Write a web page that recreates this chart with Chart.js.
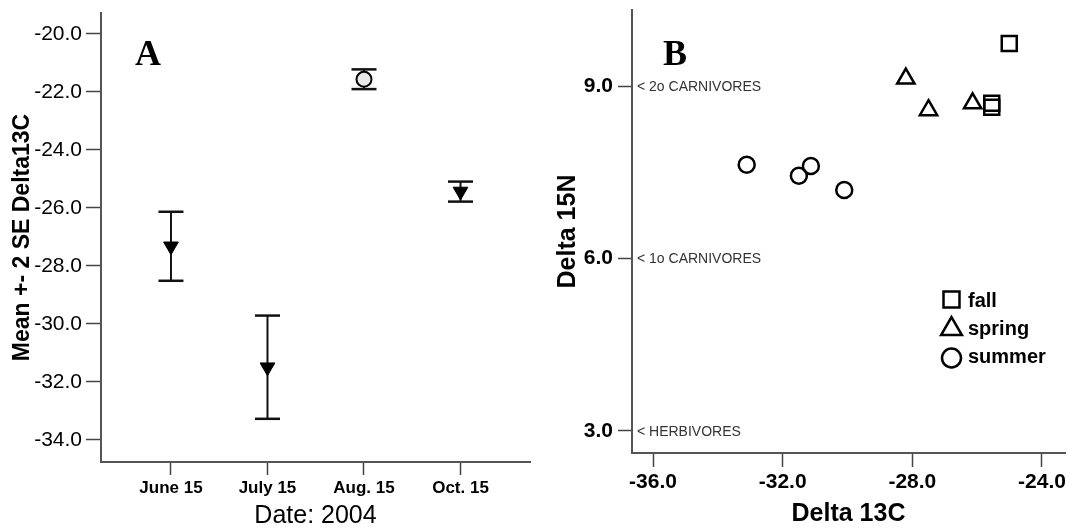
<!DOCTYPE html>
<html>
<head>
<meta charset="utf-8">
<script src="https://cdn.jsdelivr.net/npm/chart.js@4.4.1/dist/chart.umd.min.js"></script>
<style>
  html, body { margin: 0; padding: 0; background: #fff; }
  #wrapA { position: absolute; left: 0; top: 0; width: 540px; height: 529px; }
  #wrapB { position: absolute; left: 540px; top: 0; width: 528px; height: 529px; }
</style>
</head>
<body>
<div id="wrapA"><canvas id="chartA" width="540" height="529"></canvas></div>
<div id="wrapB"><canvas id="chartB" width="528" height="529"></canvas></div>
<script>
// Panel A: mean +- 2 SE of Delta13C by sampling date
const dates = ["June 15", "July 15", "Aug. 15", "Oct. 15"];
const meanC = [-27.32, -31.49, -21.56, -25.43];
const seLow = [-28.51, -33.27, -21.90, -25.78];
const seHigh = [-26.13, -29.71, -21.22, -25.09];
const yTicksA = [-34, -32, -30, -28, -26, -24, -22, -20];

// Panel B: Delta13C vs Delta15N by season
const fallC = [-25.01, -25.55, -25.55];
const fallN = [9.74, 8.70, 8.63];
const springC = [-28.20, -27.50, -26.14];
const springN = [9.13, 8.58, 8.70];
const summerC = [-33.11, -31.50, -31.13, -30.10];
const summerN = [7.63, 7.44, 7.61, 7.19];
const xTicksB = [-36, -32, -28, -24];
const yTicksB = [3, 6, 9];
const refLevels = [9, 6, 3];
const refLabels = ["< 2o CARNIVORES", "< 1o CARNIVORES", "< HERBIVORES"];

const sans = "'Liberation Sans', Arial, sans-serif";
const serif = "'Liberation Serif', 'Times New Roman', serif";
const axisColor = "#555";

// sin relleno extra para etiquetas de los extremos
function noPad(s) {
  s.paddingLeft = 0;
  s.paddingRight = 0;
  s.paddingTop = 0;
  s.paddingBottom = 0;
}

// letra del panel
function panelLetter(letter, x) {
  return {
    id: "letter" + letter,
    afterDraw(chart) {
      const ctx = chart.ctx;
      ctx.save();
      ctx.fillStyle = "#000";
      ctx.font = "bold 36px " + serif;
      ctx.textAlign = "left";
      ctx.textBaseline = "alphabetic";
      ctx.fillText(letter, x, 65);
      ctx.restore();
    }
  };
}

// Grafico A
new Chart(document.getElementById("chartA"), {
  type: "scatter",
  data: {
    datasets: [
      {
        label: "mean",
        data: dates.map((d, i) => ({ x: i, y: meanC[i] })),
        pointStyle: ["triangle", "triangle", "circle", "triangle"],
        pointRotation: [180, 180, 0, 180],
        pointRadius: [8.5, 8.5, 7.5, 8.5],
        pointBackgroundColor: ["#000", "#000", "#e8e8e8", "#000"],
        pointBorderColor: "#000",
        pointBorderWidth: [1, 1, 2, 1]
      },
      ...dates.map((d, i) => ({
        label: d,
        data: [{ x: i, y: seLow[i] }, { x: i, y: seHigh[i] }],
        showLine: true,
        borderColor: "#111",
        borderWidth: 2,
        pointStyle: "line",
        pointRadius: 12.5,
        pointBorderWidth: 2.5,
        pointBorderColor: "#111"
      }))
    ]
  },
  options: {
    responsive: false,
    animation: false,
    devicePixelRatio: 1,
    layout: { autoPadding: false, padding: { top: 13, right: 10, left: 0, bottom: 0 } },
    plugins: { legend: { display: false }, tooltip: { enabled: false } },
    scales: {
      x: {
        type: "linear",
        min: -0.725,
        max: 3.72,
        afterBuildTicks: s => { s.ticks = dates.map((d, i) => ({ value: i })); },
        afterFit: s => { s.height = 67; noPad(s); },
        grid: { drawOnChartArea: false, tickLength: 13, tickColor: "#444", tickWidth: 1.5 },
        border: { color: axisColor, width: 2 },
        ticks: {
          callback: v => dates[v],
          font: { family: sans, size: 17, weight: "bold" },
          color: "#000",
          padding: 3,
          maxRotation: 0,
          autoSkip: false
        },
        title: {
          display: true,
          text: "Date: 2004",
          color: "#000",
          font: { family: sans, size: 25, lineHeight: 1 },
          padding: { top: 0, bottom: 0 }
        }
      },
      y: {
        min: -34.759,
        max: -19.276,
        afterBuildTicks: s => { s.ticks = yTicksA.map(v => ({ value: v })); },
        afterFit: s => { s.width = 101; noPad(s); },
        grid: { drawOnChartArea: false, tickLength: 15, tickColor: "#444", tickWidth: 1.5 },
        border: { color: axisColor, width: 2 },
        ticks: {
          callback: v => v.toFixed(1),
          font: { family: sans, size: 21 },
          color: "#000",
          padding: 4
        },
        title: {
          display: true,
          text: "Mean +- 2 SE Delta13C",
          color: "#000",
          font: { family: sans, size: 23, weight: "bold", lineHeight: 1 },
          padding: { top: 11.5, bottom: 0 }
        }
      }
    }
  },
  plugins: [panelLetter("A", 135)]
});

// etiquetas de niveles troficos
const refText = {
  id: "refText",
  afterDraw(chart) {
    const ctx = chart.ctx;
    const ys = chart.scales.y;
    ctx.save();
    ctx.fillStyle = "#333";
    ctx.font = "14px " + sans;
    ctx.textAlign = "left";
    ctx.textBaseline = "middle";
    refLevels.forEach((v, i) => {
      ctx.fillText(refLabels[i], chart.chartArea.left + 5, ys.getPixelForValue(v) + 1);
    });
    ctx.restore();
  }
};

// leyenda dibujada a mano
const seasonLegend = {
  id: "seasonLegend",
  afterDraw(chart) {
    const ctx = chart.ctx;
    const items = [
      { style: "rect", r: 11.3, y: 299.5, base: 307 },
      { style: "triangle", r: 12, y: 329, base: 335 },
      { style: "circle", r: 9.5, y: 358, base: 363 }
    ];
    ctx.save();
    chart.data.datasets.forEach((ds, i) => {
      const it = items[i];
      ctx.strokeStyle = "#000";
      ctx.fillStyle = "rgba(0,0,0,0)";
      ctx.lineWidth = 2.5;
      Chart.helpers.drawPoint(ctx, { pointStyle: it.style, rotation: 0, radius: it.r, borderWidth: 2.5 }, 411.5, it.y);
      ctx.fillStyle = "#000";
      ctx.font = "bold 20px " + sans;
      ctx.textAlign = "left";
      ctx.textBaseline = "alphabetic";
      ctx.fillText(ds.label, 428, it.base);
    });
    ctx.restore();
  }
};

// Grafico B
new Chart(document.getElementById("chartB"), {
  type: "scatter",
  data: {
    datasets: [
      {
        label: "fall",
        data: fallC.map((c, i) => ({ x: c, y: fallN[i] })),
        pointStyle: "rect",
        pointRadius: 10.6,
        pointBackgroundColor: "rgba(0,0,0,0)",
        pointBorderColor: "#000",
        pointBorderWidth: 2.5
      },
      {
        label: "spring",
        data: springC.map((c, i) => ({ x: c, y: springN[i] })),
        pointStyle: "triangle",
        pointRadius: 10,
        pointBackgroundColor: "rgba(0,0,0,0)",
        pointBorderColor: "#000",
        pointBorderWidth: 2.5
      },
      {
        label: "summer",
        data: summerC.map((c, i) => ({ x: c, y: summerN[i] })),
        pointStyle: "circle",
        pointRadius: 8,
        pointBackgroundColor: "rgba(0,0,0,0)",
        pointBorderColor: "#000",
        pointBorderWidth: 2.5
      }
    ]
  },
  options: {
    responsive: false,
    animation: false,
    devicePixelRatio: 1,
    layout: { autoPadding: false, padding: { top: 10, right: 3, left: 0, bottom: 0 } },
    plugins: { legend: { display: false }, tooltip: { enabled: false } },
    scales: {
      x: {
        min: -36.648,
        max: -23.29,
        afterBuildTicks: s => { s.ticks = xTicksB.map(v => ({ value: v })); },
        afterFit: s => { s.height = 76; noPad(s); },
        grid: { drawOnChartArea: false, tickLength: 14, tickColor: "#444", tickWidth: 1.5 },
        border: { color: axisColor, width: 2 },
        ticks: {
          callback: v => v.toFixed(1),
          font: { family: sans, size: 21, weight: "bold" },
          color: "#000",
          padding: 3,
          maxRotation: 0,
          autoSkip: false
        },
        title: {
          display: true,
          text: "Delta 13C",
          color: "#000",
          font: { family: sans, size: 25, weight: "bold", lineHeight: 1 },
          padding: { top: 0, bottom: 2.5 }
        }
      },
      y: {
        min: 2.617,
        max: 10.322,
        afterBuildTicks: s => { s.ticks = yTicksB.map(v => ({ value: v })); },
        afterFit: s => { s.width = 92; noPad(s); },
        grid: { drawOnChartArea: false, tickLength: 14, tickColor: "#444", tickWidth: 1.5 },
        border: { color: axisColor, width: 2 },
        ticks: {
          callback: v => v.toFixed(1),
          font: { family: sans, size: 21, weight: "bold" },
          color: "#000",
          padding: 5
        },
        title: {
          display: true,
          text: "Delta 15N",
          color: "#000",
          font: { family: sans, size: 25, weight: "bold", lineHeight: 1 },
          padding: { top: 15.5, bottom: 0 }
        }
      }
    }
  },
  plugins: [panelLetter("B", 123), refText, seasonLegend]
});
</script>
</body>
</html>
